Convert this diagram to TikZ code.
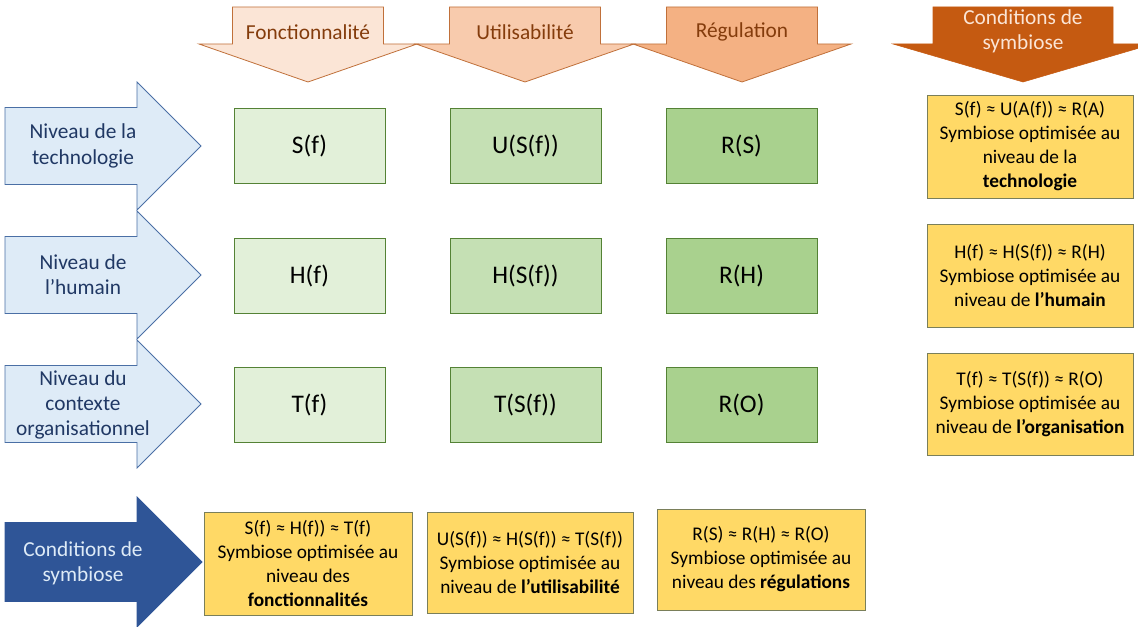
\documentclass[tikz,border=0pt]{standalone}
\usepackage{fontspec}
\setmainfont{Carlito}
\definecolor{orA}{HTML}{FBE5D6}
\definecolor{orB}{HTML}{F8CBAD}
\definecolor{orC}{HTML}{F4B183}
\definecolor{orD}{HTML}{C55A11}
\definecolor{orLine}{HTML}{C0703A}
\definecolor{orText}{HTML}{843C0C}
\definecolor{blA}{HTML}{DEEBF7}
\definecolor{blLine}{HTML}{4A6FA5}
\definecolor{blText}{HTML}{203864}
\definecolor{blD}{HTML}{2F5597}
\definecolor{grA}{HTML}{E2F0D9}
\definecolor{grB}{HTML}{C5E0B4}
\definecolor{grC}{HTML}{A9D18E}
\definecolor{grLine}{HTML}{548235}
\definecolor{yel}{HTML}{FFD966}
\definecolor{yelLine}{HTML}{7A7F5A}
\begin{document}
\begin{tikzpicture}[x=0.75pt,y=-0.75pt,
  toparrow/.style={draw=orLine, line width=0.6pt},
  levelarrow/.style={draw=blLine, fill=blA, line width=0.6pt},
  toplabel/.style={font=\fontsize{16}{19}\selectfont, text=orText, align=center},
  levellabel/.style={font=\fontsize{16}{19}\selectfont, text=blText, align=center},
  cell/.style={draw=grLine, line width=0.6pt, minimum width=151*0.75pt, minimum height=75*0.75pt, font=\fontsize{19}{23}\selectfont, inner sep=0pt},
  cond/.style={draw=yelLine, fill=yel, line width=0.6pt, font=\fontsize{14.5}{18}\selectfont, align=center, inner sep=0pt},
]
\useasboundingbox (0,0) rectangle (1138,627);
\clip (0,0) rectangle (1138,627);
% top arrows
\path[toparrow, fill=orA] (232.5,7) -- (383.5,7) -- (383.5,44) -- (417,44) -- (308,82) -- (199,44) -- (232.5,44) -- cycle;
\path[toparrow, fill=orB] (449.5,7) -- (600.5,7) -- (600.5,44) -- (634,44) -- (525,82) -- (416,44) -- (449.5,44) -- cycle;
\path[toparrow, fill=orC] (666.5,7) -- (817.5,7) -- (817.5,44) -- (851,44) -- (742,82) -- (633,44) -- (666.5,44) -- cycle;
\path[draw=orD, fill=orD] (933,7) -- (1113,7) -- (1113,44) -- (1153,44) -- (1023,82) -- (893,44) -- (933,44) -- cycle;
\node[toplabel] (tf) at (308,32) {Fonctionnalité};
\node[toplabel] (tu) at (525,32) {Utilisabilité};
\node[toplabel] (tr) at (742,32) {Régulation};
\node[levellabel, text=orA] (tc) at (1023,31) {Conditions de\\symbiose};
% level arrows
\path[levelarrow] (5,107.5) -- (137,107.5) -- (137,82) -- (201,146) -- (137,210) -- (137,184.5) -- (5,184.5) -- cycle;
\path[levelarrow] (5,236.5) -- (137,236.5) -- (137,211) -- (201,275) -- (137,339) -- (137,313.5) -- (5,313.5) -- cycle;
\path[levelarrow] (5,365.5) -- (137,365.5) -- (137,340) -- (201,404) -- (137,468) -- (137,442.5) -- (5,442.5) -- cycle;
\path[draw=blD, fill=blD, line width=0.6pt] (5,522.5) -- (137,522.5) -- (137,497) -- (202,562) -- (137,627) -- (137,601.5) -- (5,601.5) -- cycle;
\node[levellabel] (lt) at (83,146) {Niveau de la\\technologie};
\node[levellabel] (lh) at (83,275) {Niveau de\\l’humain};
\node[levellabel] (lo) at (83,405) {Niveau du\\contexte\\organisationnel};
\node[levellabel, text=blA] (lc) at (83,563) {Conditions de\\symbiose};
% green cells
\node[cell, fill=grA] (sf) at (309.5,145.5) {S(f)};
\node[cell, fill=grB] (usf) at (525.5,145.5) {U(S(f))};
\node[cell, fill=grC] (rs) at (741.5,145.5) {R(S)};
\node[cell, fill=grA] (hf) at (309.5,275.5) {H(f)};
\node[cell, fill=grB] (hsf) at (525.5,275.5) {H(S(f))};
\node[cell, fill=grC] (rh) at (741.5,275.5) {R(H)};
\node[cell, fill=grA] (tff) at (309.5,404.5) {T(f)};
\node[cell, fill=grB] (tsf) at (525.5,404.5) {T(S(f))};
\node[cell, fill=grC] (ro) at (741.5,404.5) {R(O)};
% right condition boxes
\node[cond, minimum width=206*0.75pt, minimum height=103*0.75pt] (c1) at (1030,146.5) {S(f) ≈ U(A(f)) ≈ R(A)\\Symbiose optimisée au\\niveau de la\\\textbf{technologie}};
\node[cond, minimum width=206*0.75pt, minimum height=103*0.75pt] (c2) at (1030,275.5) {H(f) ≈ H(S(f)) ≈ R(H)\\Symbiose optimisée au\\niveau de \textbf{l’humain}};
\node[cond, minimum width=206*0.75pt, minimum height=102*0.75pt] (c3) at (1030,404) {T(f) ≈ T(S(f)) ≈ R(O)\\Symbiose optimisée au\\niveau de \textbf{l’organisation}};
% bottom condition boxes
\node[cond, minimum width=208*0.75pt, minimum height=103*0.75pt] (b1) at (308,563.5) {S(f) ≈ H(f)) ≈ T(f)\\Symbiose optimisée au\\niveau des\\\textbf{fonctionnalités}};
\node[cond, minimum width=206*0.75pt, minimum height=101*0.75pt] (b2) at (530,562.5) {U(S(f)) ≈ H(S(f)) ≈ T(S(f))\\Symbiose optimisée au\\niveau de \textbf{l’utilisabilité}};
\node[cond, minimum width=208*0.75pt, minimum height=101*0.75pt] (b3) at (761,559.5) {R(S) ≈ R(H) ≈ R(O)\\Symbiose optimisée au\\niveau des \textbf{régulations}};
\end{tikzpicture}
\end{document}
